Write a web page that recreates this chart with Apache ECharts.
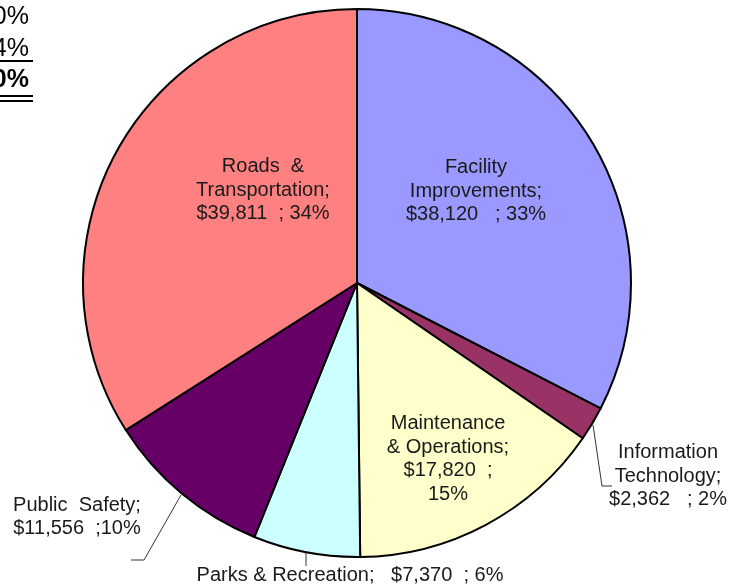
<!DOCTYPE html>
<html>
<head>
<meta charset="utf-8">
<script src="https://cdn.jsdelivr.net/npm/echarts@6/dist/echarts.min.js"></script>
<style>
  html, body { margin: 0; padding: 0; background: #fff; }
  #chart { width: 738px; height: 586px; }
</style>
</head>
<body>
<div id="chart"></div>
<script>
// capital budget by category, clockwise from 12 o'clock
const categories = ['Facility Improvements', 'Information Technology', 'Maintenance & Operations', 'Parks & Recreation', 'Public Safety', 'Roads & Transportation']
const amounts = [38120, 2362, 17820, 7370, 11556, 39811]
const colors = ['#9999FF', '#993366', '#FFFFCC', '#CCFFFF', '#660066', '#FF8080']

// the way the labels were broken in the original
const labelNames = ['Facility\nImprovements;', 'Information\nTechnology;', 'Maintenance\n& Operations;', 'Parks & Recreation;', 'Public  Safety;', 'Roads  &\nTransportation;']
const valueSep = ['\n', '\n', '\n', '   ', '\n', '\n']
const pctSep = ['   ; ', '   ; ', '  ;\n', '  ; ', '  ;', '  ; ']

// left over bits of a table cut off at the top left
const cutTexts = ['0%', '4%', '0%']

// label placement (px)
const labelPos = [[476, 191], [668, 476], [448, 459], [350, 575], [77, 517], [263, 190]]
const leaderLines = [null, [[593, 425], [602, 486], [612, 486]], null, [[306, 553], [306, 566]], [[181, 495], [144, 560], [131, 560]], null]

const total = amounts.reduce((a, b) => a + b, 0)
const fmt = v => '$' + v.toLocaleString('en-US')

const myChart = echarts.init(document.getElementById('chart'))
myChart.setOption({
  animation: false,
  graphic: [
    { type: 'text', x: 29, y: 17, style: { text: cutTexts[0], align: 'right', verticalAlign: 'middle', font: '25px "Liberation Sans", Arial', fill: '#000' } },
    { type: 'text', x: 29, y: 49, style: { text: cutTexts[1], align: 'right', verticalAlign: 'middle', font: '25px "Liberation Sans", Arial', fill: '#000' } },
    { type: 'line', shape: { x1: 0, y1: 61, x2: 33, y2: 61 }, style: { stroke: '#000', lineWidth: 2 } },
    { type: 'text', x: 29, y: 80, style: { text: cutTexts[2], align: 'right', verticalAlign: 'middle', font: 'bold 25px "Liberation Sans", Arial', fill: '#000' } },
    { type: 'line', shape: { x1: 0, y1: 96, x2: 33, y2: 96 }, style: { stroke: '#000', lineWidth: 2 } },
    { type: 'line', shape: { x1: 0, y1: 101, x2: 33, y2: 101 }, style: { stroke: '#000', lineWidth: 2 } }
  ],
  series: [
    {
      type: 'pie',
      center: [357, 283],
      radius: 274,
      startAngle: 90,
      clockwise: true,
      avoidLabelOverlap: false,
      itemStyle: {
        borderColor: '#000',
        borderWidth: 2
      },
      label: {
        show: true,
        position: 'outside',
        color: '#1a1a1a',
        fontFamily: '"Liberation Sans", Arial',
        fontSize: 20,
        lineHeight: 23.5,
        formatter: function (p) {
          const i = p.dataIndex
          return labelNames[i] + valueSep[i] + fmt(amounts[i]) + pctSep[i] + Math.round(amounts[i] / total * 100) + '%'
        }
      },
      labelLine: {
        show: true,
        lineStyle: { color: '#333', width: 1 }
      },
      labelLayout: function (params) {
        const i = params.dataIndex
        const res = {
          x: labelPos[i][0],
          y: labelPos[i][1],
          align: 'center',
          verticalAlign: 'middle'
        }
        if (leaderLines[i]) res.labelLinePoints = leaderLines[i]
        return res
      },
      emphasis: { disabled: true },
      data: categories.map((name, i) => ({
        name: name,
        value: amounts[i],
        itemStyle: { color: colors[i] },
        labelLine: { show: !!leaderLines[i] }
      }))
    }
  ]
})
</script>
</body>
</html>
